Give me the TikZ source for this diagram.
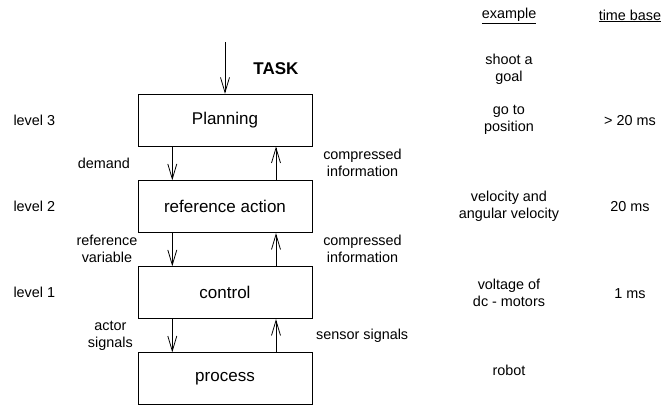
\documentclass[tikz,border=0pt]{standalone}
\usepackage{fontspec}
\setmainfont{Liberation Sans}
\usetikzlibrary{arrows.meta}
\begin{document}
\begin{tikzpicture}[x=1pt,y=-1pt,
  layer/.style={draw,line width=0.8pt,minimum width=174pt,minimum height=52pt,inner sep=0pt,
    font=\fontsize{17}{20}\selectfont},
  lbl/.style={align=center,inner sep=0pt,font=\fontsize{14.4}{17}\selectfont},
  flow/.style={line width=0.8pt,-{Straight Barb[length=15pt,width=9pt,line width=0.8pt]}}]
  \useasboundingbox (0,0) rectangle (664,405);

  % the four layers
  \node[layer] (plan) at (225,120.2) {Planning};
  \node[layer] (ref)  at (225,206.7) {reference action};
  \node[layer] (ctl)  at (225,292.7) {control};
  \node[layer] (proc) at (225,378.8) {process};

  % columns of the downward and upward signal arrows
  \coordinate (dn) at (172.3,0);
  \coordinate (up) at (276,0);
  \coordinate (taskin) at (225,42);

  \draw[flow] (taskin) -- (plan.north);
  \node[inner sep=0pt,font=\fontsize{17}{20}\selectfont\bfseries] (task) at (276,68.3) {TASK};

  \draw[flow] (plan.south -| dn) -- (ref.north -| dn);
  \draw[flow] (ref.north -| up) -- (plan.south -| up);
  \draw[flow] (ref.south -| dn) -- (ctl.north -| dn);
  \draw[flow] (ctl.north -| up) -- (ref.south -| up);
  \draw[flow] (ctl.south -| dn) -- (proc.north -| dn);
  \draw[flow] (proc.north -| up) -- (ctl.south -| up);

  % arrow labels
  \node[lbl] (l1) at (103.8,163.3) {demand};
  \node[lbl] (l2) at (362.5,163.3) {compressed\\information};
  \node[lbl] (l3) at (107,249) {reference\\variable};
  \node[lbl] (l4) at (362.5,249) {compressed\\information};
  \node[lbl] (l5) at (110.3,335.8) {actor\\signals};
  \node[lbl] (l6) at (362.2,335.7) {sensor signals};

  % level names
  \node[lbl,anchor=west] (lv3) at (13.3,120) {level 3};
  \node[lbl,anchor=west] (lv2) at (13.3,206.7) {level 2};
  \node[lbl,anchor=west] (lv1) at (13.3,292.7) {level 1};

  % example and time base columns
  \node[lbl] (hex) at (509.2,16) {\underline{example}};
  \node[lbl] (htb) at (630,16) {\underline{time base}};
  \node[lbl] (e0) at (509,69) {shoot a\\goal};
  \node[lbl] (e3) at (509,120.3) {go to\\position};
  \node[lbl] (t3) at (630,120.7) {> 20 ms};
  \node[lbl] (e2) at (509,206.7) {velocity and\\angular velocity};
  \node[lbl] (t2) at (630,206.7) {20 ms};
  \node[lbl] (e1) at (509,293.3) {voltage of\\dc - motors};
  \node[lbl] (t1) at (630,293.3) {1 ms};
  \node[lbl] (e0b) at (509,370) {robot};
\end{tikzpicture}
\end{document}
